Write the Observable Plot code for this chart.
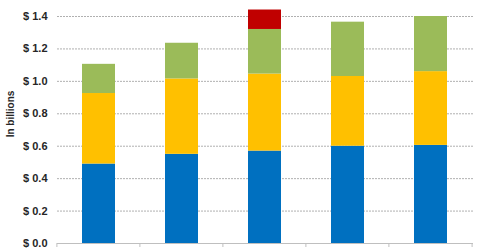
<!DOCTYPE html>
<html>
<head>
<meta charset="utf-8">
<script src="https://cdn.jsdelivr.net/npm/d3@7"></script>
<script src="https://cdn.jsdelivr.net/npm/@observablehq/plot@0.6"></script>
<style>
  html, body { margin: 0; padding: 0; background: #fff; }
  svg { font-family: "Liberation Sans", Arial, sans-serif; }
</style>
</head>
<body>
<div id="chart"></div>
<script>
const categories = ["A", "B", "C", "D", "E"];
const series = ["Segment 1", "Segment 2", "Segment 3", "Segment 4"];
const seg1Values = [0.490, 0.550, 0.570, 0.600, 0.605];
const seg2Values = [0.435, 0.465, 0.475, 0.430, 0.455];
const seg3Values = [0.180, 0.220, 0.275, 0.335, 0.340];
const seg4Values = [0.000, 0.000, 0.120, 0.000, 0.000];
const colors = ["#0070C0", "#FFC000", "#9BBB59", "#C00000"];
const yTicks = [0, 0.2, 0.4, 0.6, 0.8, 1.0, 1.2, 1.4];

const all = [seg1Values, seg2Values, seg3Values, seg4Values];
const data = [];
categories.forEach((c, i) => {
  series.forEach((s, j) => {
    if (all[j][i] > 0) data.push({category: c, series: s, value: all[j][i]});
  });
});

const chart = Plot.plot({
  width: 480,
  height: 251,
  marginLeft: 57,
  marginRight: 7,
  marginTop: 16,
  marginBottom: 8,
  style: {fontFamily: "Liberation Sans, Arial, sans-serif", background: "#fff"},
  x: {domain: categories, paddingInner: 0.6, paddingOuter: 0.3, axis: null},
  y: {domain: [0, 1.4], axis: null},
  color: {domain: series, range: colors},
  marks: [
    Plot.gridY(yTicks.filter(d => d > 0), {stroke: "#b0b0b0", strokeOpacity: 1, strokeDasharray: "2,1"}),
    Plot.barY(data, Plot.stackY({x: "category", y: "value", fill: "series", order: series})),
    Plot.ruleY([0], {stroke: "#bfbfbf", strokeWidth: 1}),
    (index, scales, values, dims) => {
      const x = scales.x;
      const xs = scales.scales && scales.scales.x;
      const step = (dims.width - dims.marginLeft - dims.marginRight) / categories.length;
      const bw = xs && xs.bandwidth != null ? xs.bandwidth : step * 0.4;
      const y0 = scales.y(0);
      const g = d3.create("svg:g").attr("stroke", "#bfbfbf");
      const edges = categories.map(c => x(c) - (step - bw) / 2);
      edges.push(edges[edges.length - 1] + step);
      g.selectAll("line").data(edges).join("line")
        .attr("x1", d => d).attr("x2", d => d)
        .attr("y1", y0).attr("y2", y0 + 4);
      return g.node();
    },
    Plot.axisY(yTicks, {
      tickSize: 0, tickPadding: 10,
      tickFormat: d => "$ " + d.toFixed(1),
      fontSize: 11, fontWeight: "bold", fill: "#262626", label: null
    }),
    Plot.text(["In billions"], {
      frameAnchor: "left", textAnchor: "middle", rotate: -90, dx: -47, dy: -16,
      fontSize: 10, fontWeight: "bold", fill: "#262626"
    })
  ]
});
document.getElementById("chart").appendChild(chart);
</script>
</body>
</html>
